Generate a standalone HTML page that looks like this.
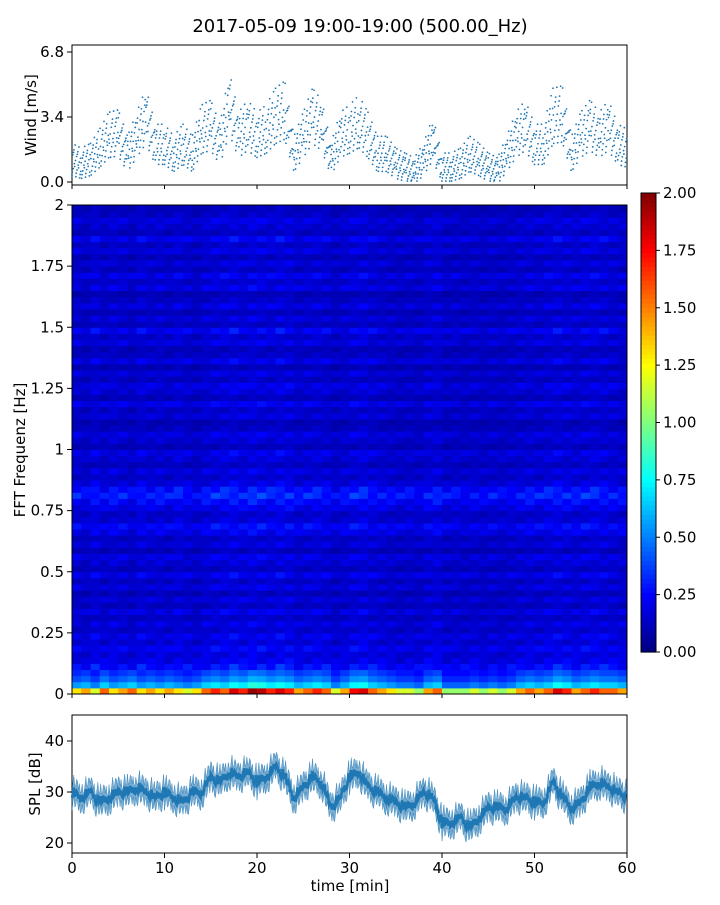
<!DOCTYPE html>
<html><head><meta charset="utf-8">
<style>
body{margin:0;background:#fff;}
svg text{font-family:"DejaVu Sans","Liberation Sans",sans-serif;fill:#000;}
</style></head>
<body>
<svg id="chart" width="720" height="900" xmlns="http://www.w3.org/2000/svg">
<text x="360" y="32" font-size="18" text-anchor="middle">2017-05-09 19:00-19:00 (500.00_Hz)</text>
<g id="wind"></g>
<g id="heat"></g>
<g id="cbar"></g>
<g id="spl"></g>
</svg>
<script>
// ---- data ----
const minutes = [0,1,2,3,4,5,6,7,8,9,10,11,12,13,14,15,16,17,18,19,20,21,22,23,24,25,26,27,28,29,30,31,32,33,34,35,36,37,38,39,40,41,42,43,44,45,46,47,48,49,50,51,52,53,54,55,56,57,58,59,60];
const windMean = [1.2,1.0,1.2,1.8,2.5,2.6,1.5,2.5,3.5,2.0,2.0,1.5,2.0,1.5,2.8,3.0,2.0,4.2,2.5,3.0,2.5,2.8,3.5,3.8,1.5,2.5,3.5,3.0,1.2,2.5,2.8,3.2,2.5,1.5,1.5,1.0,0.8,0.6,1.2,2.3,0.8,0.8,1.0,1.5,1.2,0.8,0.6,1.5,2.5,3.0,2.0,2.0,3.5,3.6,1.5,2.5,3.0,2.5,3.0,2.0,1.8];
const splMean = [30,29,30,28,29,30,30,31,30,29,30,29,28,30,30,33,32,34,33,34,32,33,35,33,29,31,33,32,27,29,33,34,31,30,29,28,27,28,30,29,24,24,25,23,25,27,27,27,29,29,28,28,32,29,27,28,31,32,31,30,29];
const freqRowLevel = [1.3,0.55,0.4,0.32,0.26,0.2,0.17,0.22,0.16,0.2,0.14,0.18,0.13,0.19,0.12,0.17,0.11,0.18,0.13,0.2,0.12,0.16,0.19,0.11,0.17,0.13,0.2,0.24,0.16,0.14,0.2,0.24,0.3,0.26,0.18,0.14,0.18,0.12,0.16,0.19,0.11,0.15,0.18,0.12,0.1,0.17,0.13,0.2,0.11,0.16,0.19,0.12,0.17,0.1,0.19,0.13,0.11,0.18,0.14,0.22,0.12,0.17,0.11,0.18,0.13,0.1,0.19,0.14,0.2,0.12,0.17,0.11,0.18,0.13,0.21,0.12,0.15,0.18,0.13,0.11];
const timeColLevel = [1.0,0.9,1.1,0.95,1.05,1.0,0.9,1.1,1.0,1.05,0.95,1.1,1.0,0.9,1.05,1.1,1.15,1.2,1.1,1.2,1.15,1.1,1.2,1.15,1.0,1.05,1.1,1.05,0.9,1.0,1.1,1.15,1.05,1.0,0.95,0.9,0.95,0.9,1.05,1.1,0.9,0.95,0.9,0.95,0.9,0.95,0.9,0.95,1.0,1.05,1.0,1.1,1.15,1.1,1.05,1.1,1.15,1.1,1.05,1.0];
const lowFreqHot = [1.0,1.1,0.9,1.2,1.0,1.1,1.2,1.0,1.1,1.0,1.1,1.0,0.9,1.0,1.2,1.3,1.2,1.4,1.3,1.5,1.45,1.3,1.4,1.3,1.1,1.2,1.3,1.2,0.9,1.1,1.35,1.4,1.2,1.1,1.0,0.9,0.9,0.8,1.1,1.2,0.8,0.8,0.8,0.9,0.8,0.9,0.8,0.9,1.1,1.2,1.1,1.2,1.4,1.3,1.1,1.2,1.3,1.2,1.2,1.1];
const windTicks = [0.0,3.4,6.8];
const freqTicks = [0,0.25,0.5,0.75,1,1.25,1.5,1.75,2];
const freqTickLabels = ["0","0.25","0.5","0.75","1","1.25","1.5","1.75","2"];
const cbarTicks = [0,0.25,0.5,0.75,1,1.25,1.5,1.75,2];
const splTicks = [20,30,40];
const timeTicks = [0,10,20,30,40,50,60];

const NS="http://www.w3.org/2000/svg";
function mk(tag,attrs,parent){const e=document.createElementNS(NS,tag);for(const k in attrs)e.setAttribute(k,attrs[k]);parent.appendChild(e);return e;}
const X0=72,X1=627;
const xs=t=>X0+(t/60)*(X1-X0);
function jet(v){let t=Math.max(0,Math.min(1,v/2));
 const f=x=>Math.max(0,Math.min(1,1.5-Math.abs(4*t-x)));
 return `rgb(${Math.round(255*f(3))},${Math.round(255*f(2))},${Math.round(255*f(1))})`;}
function yTicks(g,vals,labels,ys,name){vals.forEach((v,i)=>{const y=ys(v);
 const l=mk('line',{x1:X0-5,x2:X0,y1:y,y2:y,stroke:'#000'},g);
 const t=mk('text',{x:X0-8,y:y+5,'font-size':15,'text-anchor':'end'},g);t.textContent=labels[i];});}
const offs=[-0.9,-0.5,-0.2,0,0.25,0.55,0.85,-0.7,0.4,-0.35];

// ---- wind panel ----
{const g=document.getElementById('wind');const T=45,B=185;const ys=v=>182-(v/6.8)*130;
 mk('rect',{x:X0,y:T,width:X1-X0,height:B-T,fill:'#fff',stroke:'#000'},g);
 for(let i=0;i<minutes.length-1;i++){for(let k=0;k<24;k++){const t=minutes[i]+k/24;
   const m=windMean[i]+(windMean[i+1]-windMean[i])*k/24;const v=Math.max(0.05,m+offs[(k*7+i*3)%10]*(0.6+m*0.3));
   const c=mk('circle',{cx:xs(t),cy:ys(v),r:0.9,fill:'#1f77b4'},g);}}
 yTicks(g,windTicks,["0.0","3.4","6.8"],ys,'wind-y');
 timeTicks.forEach(t=>mk('line',{x1:xs(t),x2:xs(t),y1:B,y2:B+4,stroke:'#000'},g));
 const yl=mk('text',{x:36,y:115,'font-size':15,'text-anchor':'middle',transform:'rotate(-90 36 115)'},g);yl.textContent='Wind [m/s]';}

// ---- heatmap ----
{const g=document.getElementById('heat');const T=205,B=694;const ys=f=>B-(f/2)*(B-T);
 const nr=freqRowLevel.length,nc=timeColLevel.length;const rh=(B-T)/nr,cw=(X1-X0)/nc;
 for(let r=0;r<nr;r++)for(let c=0;c<nc;c++){let v=freqRowLevel[r]*(r<4?lowFreqHot[c]:timeColLevel[c]*(0.8+0.4*((r*7+c*3)%5)/4));
   const rc=mk('rect',{x:X0+c*cw,y:B-(r+1)*rh,width:cw+0.5,height:rh+0.5,fill:jet(v)},g);}
 mk('rect',{x:X0,y:T,width:X1-X0,height:B-T,fill:'none',stroke:'#000'},g);
 yTicks(g,freqTicks,freqTickLabels,ys,'freq-y');
 timeTicks.forEach(t=>mk('line',{x1:xs(t),x2:xs(t),y1:B,y2:B+4,stroke:'#000'},g));
 const yl=mk('text',{x:25,y:450,'font-size':15,'text-anchor':'middle',transform:'rotate(-90 25 450)'},g);yl.textContent='FFT Frequenz [Hz]';}

// ---- colorbar ----
{const g=document.getElementById('cbar');const T=193,B=652,L=641,W=15;const ys=v=>B-(v/2)*(B-T);
 for(let i=0;i<100;i++){mk('rect',{x:L,y:B-(i+1)*(B-T)/100,width:W,height:(B-T)/100+0.6,fill:jet(i/50+0.01)},g);}
 mk('rect',{x:L,y:T,width:W,height:B-T,fill:'none',stroke:'#000'},g);
 cbarTicks.forEach(v=>{const y=ys(v);mk('line',{x1:L+W,x2:L+W+4,y1:y,y2:y,stroke:'#000'},g);
  const t=mk('text',{x:L+W+7,y:y+5,'font-size':15},g);t.textContent=v.toFixed(2);});}

// ---- SPL panel ----
{const g=document.getElementById('spl');const T=715,B=853;const ys=v=>843-(v-20)*5.1;
 mk('rect',{x:X0,y:T,width:X1-X0,height:B-T,fill:'#fff',stroke:'#000'},g);
 let up='',dn='',ln='';
 for(let i=0;i<minutes.length-1;i++)for(let k=0;k<10;k++){const t=minutes[i]+k/10;const m=splMean[i]+(splMean[i+1]-splMean[i])*k/10;const o=offs[(k*3+i)%10]*1.8;
   up+=(up?'L':'M')+xs(t).toFixed(1)+','+ys(m+2.0+o).toFixed(1);dn='L'+xs(t).toFixed(1)+','+ys(m-2.0+o).toFixed(1)+dn;ln+=(ln?'L':'M')+xs(t).toFixed(1)+','+ys(m+o*0.7).toFixed(1);}
 const band=mk('path',{d:up+dn+'Z',fill:'#1f77b4','fill-opacity':0.6,stroke:'#1f77b4','stroke-width':0.4},g);
 const line=mk('path',{d:ln,fill:'none',stroke:'#1f77b4','stroke-width':2.5},g);
 yTicks(g,splTicks,["20","30","40"],ys,'spl-y');
 timeTicks.forEach(t=>{mk('line',{x1:xs(t),x2:xs(t),y1:B,y2:B+5,stroke:'#000'},g);
  const tx=mk('text',{x:xs(t),y:B+20,'font-size':15,'text-anchor':'middle'},g);tx.textContent=t;});
 const xl=mk('text',{x:350,y:891,'font-size':15,'text-anchor':'middle'},g);xl.textContent='time [min]';
 const yl=mk('text',{x:40,y:784,'font-size':15,'text-anchor':'middle',transform:'rotate(-90 40 784)'},g);yl.textContent='SPL [dB]';}
</script>
</body></html>
